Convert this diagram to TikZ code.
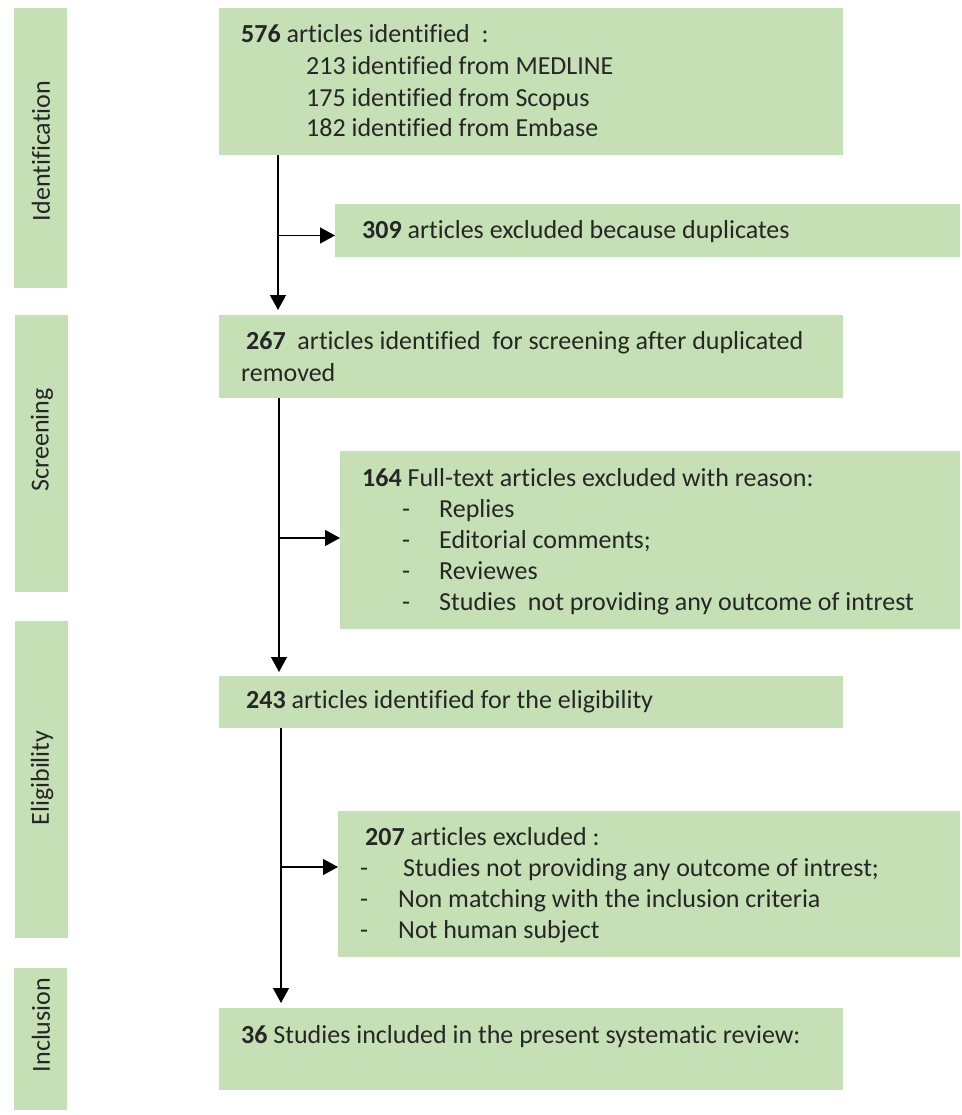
\documentclass[tikz,border=0pt]{standalone}
\usepackage{fontspec}
\setmainfont{Carlito}[Ligatures={NoCommon}]
\usetikzlibrary{arrows.meta,calc}
\definecolor{boxgreen}{HTML}{C5E0B4}
\begin{document}
\begin{tikzpicture}[x=1pt,y=-1pt,
  box/.style={fill=boxgreen,draw=none,inner sep=0pt,outer sep=0pt,anchor=north west},
  txt/.style={anchor=base west,inner sep=0pt,font=\fontsize{26}{31}\selectfont,text=black!85},
  side/.style={rotate=90,inner sep=0pt,font=\fontsize{26}{31}\selectfont,text=black!85},
  arr/.style={line width=1.3pt,-{Triangle[length=15pt,width=16pt]}}]
\useasboundingbox (0,0) rectangle (961,1115);
% side bars
\node[box,minimum width=53pt,minimum height=280pt] (s1) at (14,8) {};
\node[box,minimum width=53pt,minimum height=277pt] (s2) at (15,315) {};
\node[box,minimum width=53pt,minimum height=317pt] (s3) at (15,621) {};
\node[box,minimum width=53pt,minimum height=142pt] (s4) at (14,968) {};
\node[side] (l1) at (41,151) {Identification};
\node[side] (l2) at (42,440) {Screening};
\node[side] (l3) at (42,778) {Eligibility};
\node[side] (l4) at (41,1025) {Inclusion};
% main boxes
\node[box,minimum width=624pt,minimum height=147pt] (b1) at (219,8) {};
\node[box,minimum width=625pt,minimum height=53pt] (b309) at (335,204) {};
\node[box,minimum width=624pt,minimum height=83pt] (b2) at (219,315) {};
\node[box,minimum width=620pt,minimum height=178pt] (b164) at (340,451) {};
\node[box,minimum width=624pt,minimum height=52pt] (b3) at (219,676) {};
\node[box,minimum width=622pt,minimum height=146pt] (b207) at (338,811) {};
\node[box,minimum width=624pt,minimum height=82pt] (b4) at (219,1008) {};
% texts
\node[txt] (t1) at (241,43) {\textbf{576} articles identified\ \ :};
\node[txt] (t2) at (306,75) {213 identified from MEDLINE};
\node[txt] (t3) at (306,107) {175 identified from Scopus};
\node[txt] (t4) at (306,137) {182 identified from Embase};
\node[txt] (t5) at (362,238) {\textbf{309} articles excluded because duplicates};
\node[txt] (t6) at (246,349) {\textbf{267}\ \ articles identified\ \ for screening after duplicated};
\node[txt] (t7) at (241,381) {removed};
\node[txt] (t8) at (362,486) {\textbf{164} Full-text articles excluded with reason:};
\node[txt] (d1) at (402,517) {-};
\node[txt] (d2) at (402,548) {-};
\node[txt] (d3) at (402,579) {-};
\node[txt] (d4) at (402,610) {-};
\node[txt] (i1) at (439,517) {Replies};
\node[txt] (i2) at (439,548) {Editorial comments;};
\node[txt] (i3) at (439,579) {Reviewes};
\node[txt] (i4) at (439,610) {Studies\ \ not providing any outcome of intrest};
\node[txt] (t9) at (246,708) {\textbf{243} articles identified for the eligibility};
\node[txt] (t10) at (365,845) {\textbf{207} articles excluded :};
\node[txt] (e1) at (360,876) {-};
\node[txt] (e2) at (360,907) {-};
\node[txt] (e3) at (360,938) {-};
\node[txt] (j1) at (403,876) {Studies not providing any outcome of intrest;};
\node[txt] (j2) at (398,907) {Non matching with the inclusion criteria};
\node[txt] (j3) at (398,938) {Not human subject};
\node[txt] (t11) at (241,1043) {\textbf{36} Studies included in the present systematic review:};
% connectors
\coordinate (c1) at (278,0);
\coordinate (c2) at (279,0);
\coordinate (c3) at (281,0);
\draw[arr,shorten >=5pt] (b1.south -| c1) -- (b2.north -| c1);
\draw[arr] (b1.south -| c1) |- ($(b309.west)+(0,5)$);
\draw[arr,shorten >=4pt] (b2.south -| c2) -- (b3.north -| c2);
\draw[arr] (b2.south -| c2) |- ($(b164.west)+(0,-2)$);
\draw[arr,shorten >=5pt] (b3.south -| c3) -- (b4.north -| c3);
\draw[arr] (b3.south -| c3) |- ($(b207.west)+(0,-17)$);
\end{tikzpicture}
\end{document}
